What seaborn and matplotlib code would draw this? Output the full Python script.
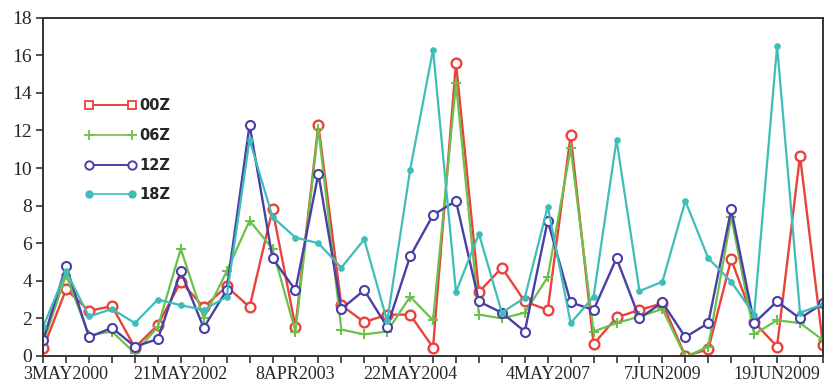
import numpy as np
import pandas as pd
import matplotlib
matplotlib.use("Agg")
import matplotlib.pyplot as plt
from matplotlib.lines import Line2D
import seaborn as sns

# values, one per case (35 cases)
z00 = [0.4, 3.55, 2.4, 2.65, 0.45, 1.65, 3.95, 2.6, 3.7, 2.6,
       7.8, 1.55, 12.3, 2.7, 1.8, 2.2, 2.2, 0.45, 15.6, 3.4,
       4.7, 2.9, 2.45, 11.75, 0.63, 2.05, 2.45, 2.8, 0.0, 0.35,
       5.15, 1.8, 0.5, 10.65, 0.6]
z06 = [0.7, 4.3, 1.1, 1.3, 0.15, 1.55, 5.7, 2.0, 4.5, 7.2,
       5.7, 1.3, 12.1, 1.4, 1.15, 1.3, 3.15, 1.9, 14.5, 2.2,
       2.0, 2.3, 4.2, 11.05, 1.3, 1.75, 2.1, 2.5, -0.05, 0.5,
       7.4, 1.15, 1.9, 1.75, 0.85]
z12 = [0.85, 4.8, 1.0, 1.5, 0.5, 0.9, 4.5, 1.5, 3.5, 12.3,
       5.2, 3.5, 9.7, 2.5, 3.5, 1.55, 5.3, 7.5, 8.25, 2.9,
       2.3, 1.3, 7.2, 2.85, 2.45, 5.2, 2.0, 2.85, 1.0, 1.75,
       7.8, 1.75, 2.9, 2.0, 2.8]
z18 = [1.55, 4.5, 2.1, 2.5, 1.75, 3.0, 2.7, 2.45, 3.15, 11.5,
       7.4, 6.3, 6.0, 4.7, 6.2, 1.85, 9.9, 16.3, 3.4, 6.5,
       2.3, 3.1, 7.95, 1.75, 3.15, 11.5, 3.45, 3.95, 8.25, 5.2,
       3.95, 2.2, 16.5, 2.3, 2.75]

date_labels = ["3MAY2000", "21MAY2002", "8APR2003", "22MAY2004",
               "4MAY2007", "7JUN2009", "19JUN2009"]
label_pos = [1, 6, 11, 16, 22, 27, 32]

case = np.arange(len(z00))
df = pd.DataFrame({"case": case, "00Z": z00, "06Z": z06, "12Z": z12, "18Z": z18})

sns.set_style("ticks")
plt.rcParams["font.family"] = ["Liberation Serif", "DejaVu Serif"]

red = "#e8433c"
green = "#6cc14b"
blue = "#4a3fa6"
teal = "#3fbdb9"

fig = plt.figure(figsize=(8.3, 3.84), dpi=100)
ax = fig.add_axes([0.052, 0.073, 0.9395, 0.881])

sns.lineplot(data=df, x="case", y="00Z", ax=ax, color=red, lw=1.7,
             marker="o", ms=7, mfc="white", mec=red, mew=1.7)
sns.lineplot(data=df, x="case", y="06Z", ax=ax, color=green, lw=1.6,
             marker="+", ms=7, mec=green, mew=1.4)
sns.lineplot(data=df, x="case", y="12Z", ax=ax, color=blue, lw=1.7,
             marker="o", ms=6.5, mfc="white", mec=blue, mew=1.5)
sns.lineplot(data=df, x="case", y="18Z", ax=ax, color=teal, lw=1.6,
             marker="o", ms=4, mfc=teal, mec=teal)

ax.set_xlim(0, len(case) - 1)
ax.set_ylim(0, 18)
ax.set_yticks(range(0, 19, 2))
ax.set_xticks(case)
ticklabels = [""] * len(case)
for p, lab in zip(label_pos, date_labels):
    ticklabels[p] = lab
ax.set_xticklabels(ticklabels, fontsize=13)
ax.tick_params(axis="y", labelsize=14, length=5, width=1.2, pad=3, color="#333333")
ax.tick_params(axis="x", length=5, width=1.2, pad=2.5, color="#333333")
ax.set_xlabel("")
ax.set_ylabel("")
for s in ax.spines.values():
    s.set_color("#333333")
    s.set_linewidth(1.4)

handles = [
    Line2D([0], [0], color=red, lw=1.4, marker="s", ms=6, mfc="white", mec=red, mew=1.3),
    Line2D([0], [0], color=green, lw=1.2, marker="+", ms=7, mec=green, mew=1.3),
    Line2D([0], [0], color=blue, lw=1.4, marker="o", ms=6, mfc="white", mec=blue, mew=1.4),
    Line2D([0], [0], color=teal, lw=1.2, marker="o", ms=5, mfc=teal, mec=teal),
]
ax.legend(handles, ["00Z", "06Z", "12Z", "18Z"], loc="upper left",
          bbox_to_anchor=(0.036, 0.8), frameon=False, numpoints=2,
          handlelength=3.6, handletextpad=0.15, labelspacing=1.0,
          prop={"family": "DejaVu Sans", "weight": "bold", "size": 10.5})

fig.savefig("out.png", dpi=100)
